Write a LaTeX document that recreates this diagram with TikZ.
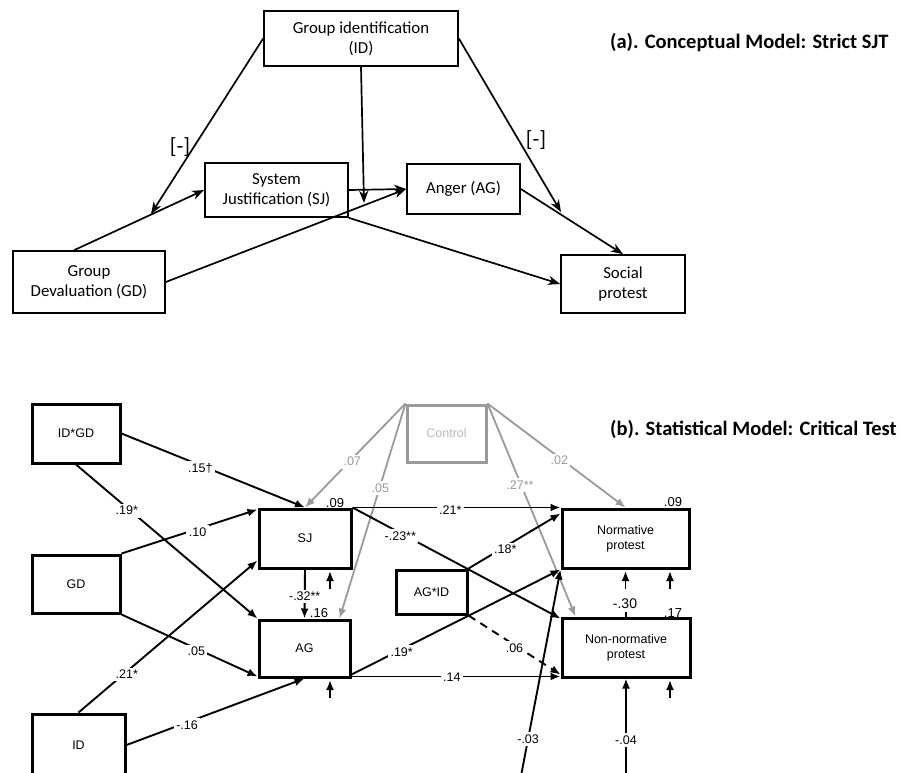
\documentclass[tikz,border=0pt]{standalone}
\usepackage{fontspec}
\setmainfont{Carlito}
\newfontfamily\arialf{Liberation Sans}
\usetikzlibrary{arrows.meta,calc}
\definecolor{ctlgray}{HTML}{9A9A9A}
\definecolor{ctltext}{HTML}{BBBBBB}
\tikzset{
  abox/.style={draw, line width=1.7pt, align=center, inner sep=0pt,
    font=\fontsize{16.8}{20}\selectfont},
  aarr/.style={-{Stealth[length=12pt,width=9pt,inset=3.5pt]}, line width=1.7pt},
  albl/.style={font=\fontsize{22}{24}\selectfont, inner sep=0pt},
  title/.style={font=\bfseries\fontsize{20.5}{24}\selectfont, anchor=west, inner sep=0pt},
  bbox/.style={draw, line width=3pt, align=center, inner sep=0pt,
    font=\arialf\fontsize{12.5}{15}\selectfont},
  barr/.style={-{Latex[length=10pt,width=8pt]}, line width=1.9pt},
  garr/.style={-{Latex[length=10pt,width=8pt]}, line width=1.8pt, draw=ctlgray},
  lbl/.style={fill=white, font=\arialf\fontsize{12.5}{14}\selectfont, inner sep=2.5pt, yshift=-3pt},
  glbl/.style={lbl, text=ctlgray},
  rsq/.style={font=\arialf\fontsize{13}{15}\selectfont, inner sep=0pt}
}
\begin{document}
\begin{tikzpicture}[x=1pt,y=-1pt]
\clip (0,0) rectangle (903,772);
\fill[white] (0,0) rectangle (903,772);

% ---------------- (a) ----------------
\node[abox, minimum width=194pt, minimum height=55pt] (aID) at (361,38.5) {Group identification\\(ID)};
\node[abox, minimum width=143pt, minimum height=54pt] (aSJ) at (276.5,190) {System\\Justification (SJ)};
\node[abox, minimum width=113pt, minimum height=50pt] (aAG) at (463.5,189) {Anger (AG)};
\node[abox, minimum width=152pt, minimum height=62pt] (aGD) at (89,282) {Group\\Devaluation (GD)};
\node[abox, minimum width=124pt, minimum height=58pt] (aSP) at (623,284) {Social\\protest};
\node[title] (ta) at (610,43) {(a). Conceptual Model: Strict SJT};

\coordinate (aP) at (151,214);
\coordinate (aQ) at (364,203);
\coordinate (aR) at (561,212);

\draw[aarr] (aID.west) -- (aP);
\draw[aarr] ($(aGD.north west)+(62,0)$) -- (aSJ.west);
\draw[aarr] (aID.south) -- (aQ);
\draw[aarr] (aSJ.east) -- (aAG.west);
\draw[aarr] (aGD.east) -- (aAG.west);
\draw[aarr] (aSJ.south east) -- (aSP.west);
\draw[aarr] (aAG.east) -- (aSP.north);
\draw[aarr] (aID.east) -- (aR);
\node[albl] (m1) at (180,147) {[-]};
\node[albl] (m2) at (536,140) {[-]};

% ---------------- (b) ----------------
\node[bbox, minimum width=88pt, minimum height=59pt] (bIDGD) at (76,433.5) {ID*GD};
\node[bbox, minimum width=88pt, minimum height=58pt] (bGD) at (76,584) {GD};
\node[bbox, minimum width=93pt, minimum height=62pt] (bID) at (78.5,745) {ID};
\node[bbox, minimum width=92pt, minimum height=59pt] (bSJ) at (305,538.5) {SJ};
\node[bbox, minimum width=91pt, minimum height=57pt] (bAG) at (304.5,648.5) {AG};
\node[bbox, minimum width=79pt, minimum height=57pt, draw=ctlgray, text=ctltext] (bCtl) at (446.5,433.5) {Control};
\node[bbox, minimum width=71pt, minimum height=44pt] (bAGID) at (431.5,592) {AG*ID};
\node[bbox, minimum width=127pt, minimum height=59pt] (bNP) at (625.5,538.5) {Normative\\protest};
\node[bbox, minimum width=128pt, minimum height=59pt] (bNN) at (626,647.5) {Non-normative\\protest};
\node[title] (tb) at (610,429) {(b). Statistical Model: Critical Test};

\coordinate (bX) at (521,776);
\coordinate (bY) at (626,776);

% control paths
\draw[garr] (bCtl.north west) -- node[glbl,pos=0.53] {.07} (bSJ.north);
\draw[garr] (bCtl.north west) -- node[glbl,pos=0.38] {.05} ($(bAG.north east)+(-12,0)$);
\draw[garr] (bCtl.north east) -- node[glbl,pos=0.52] {.02} (bNP.north);
\draw[garr] (bCtl.north east) -- node[glbl,pos=0.37] {.27**} ($(bNN.north west)+(15,0)$);

% predictors
\draw[barr] (bIDGD.east) -- node[lbl,pos=0.43] {.15†} (bSJ.north);
\draw[barr] (bIDGD.south) -- node[lbl,pos=0.28] {.19*} (bAG.north west);
\draw[barr] (bGD.north east) -- node[lbl,pos=0.56] {.10} ($(bSJ.north west)+(0,2)$);
\draw[barr] (bGD.south east) -- node[lbl,pos=0.55] {.05} ($(bAG.south west)+(0,-2)$);
\draw[barr] ($(bID.north west)+(48,0)$) -- node[lbl,pos=0.27] {.21*} ($(bSJ.south west)+(0,-9)$);
\draw[barr] (bID.east) -- node[lbl,pos=0.34] {-.16} (bAG.south);
\draw[barr] (bSJ.south) -- node[lbl,pos=0.55,yshift=3pt] {-.32**} (bAG.north);

% mediators to outcomes
\draw[barr] (bSJ.north east) -- node[lbl,pos=0.47] {.21*} (bNP.north west);
\draw[barr] (bSJ.north east) -- node[lbl,pos=0.23] {-.23**} ($(bNN.north west)+(0,2)$);
\draw[barr] (bAGID.north east) -- node[lbl,pos=0.4] {.18*} ($(bNP.north west)+(0,6)$);
\draw[barr] ($(bAG.south east)+(0,-4)$) -- node[lbl,pos=0.24] {.19*} (bNP.south west);
\draw[barr, dash pattern=on 8pt off 6pt] (bAGID.south east) -- node[lbl,pos=0.5] {.06} ($(bNN.south west)+(0,-4)$);
\draw[barr] ($(bAG.south east)+(0,-2)$) -- node[lbl,pos=0.48,yshift=2pt] {.14} ($(bNN.south west)+(0,-2)$);
\draw[barr] (bX) -- node[lbl,pos=0.18,yshift=3pt] {-.03} (bNP.south west);
\draw[barr] (bY) -- node[lbl,pos=0.37,yshift=3pt] {-.04} (bNN.south);

% error terms
\draw[barr] ($(bSJ.south)+(25,19)$) -- ($(bSJ.south)+(25,1.5)$);
\draw[barr] ($(bAG.south)+(25.5,19)$) -- ($(bAG.south)+(25.5,1.5)$);
\draw[barr] ($(bNP.south)+(0,19)$) -- ($(bNP.south)+(0,1.5)$);
\draw[barr] ($(bNP.south)+(44.5,19)$) -- ($(bNP.south)+(44.5,1.5)$);
\draw[barr] ($(bNN.south)+(44,19)$) -- ($(bNN.south)+(44,1.5)$);
\draw[line width=1.4pt] (bNN.north) -- ++(0,-5);

% R-squared and covariance labels
\node[rsq] (r1) at (335,503) {.09};
\node[rsq] (r2) at (319,613) {.16};
\node[rsq] (r3) at (673,502) {.09};
\node[rsq] (r4) at (673,613) {.17};
\node[rsq, font=\arialf\fontsize{14}{16}\selectfont] (cv) at (625,604) {-.30};
\end{tikzpicture}
\end{document}
